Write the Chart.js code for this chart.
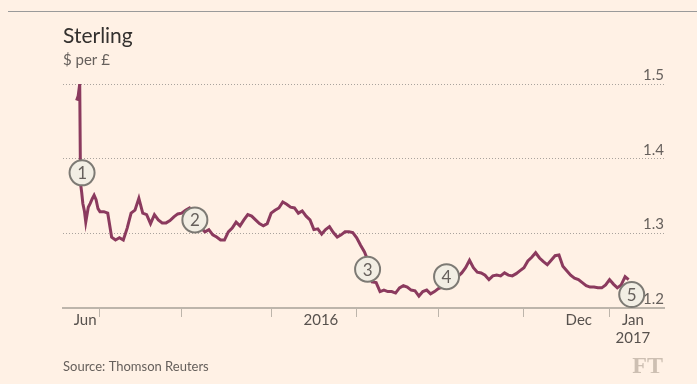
<!DOCTYPE html>
<html>
<head>
<meta charset="utf-8">
<script src="https://cdn.jsdelivr.net/npm/chart.js@4.4.0/dist/chart.umd.min.js"></script>
<style>
  html, body { margin: 0; padding: 0; background: #fff1e5; }
  #wrap { width: 697px; height: 384px; }
</style>
</head>
<body>
<div id="wrap"><canvas id="sterling" width="697" height="384"></canvas></div>
<script>
// trading days counted from 23 Jun 2016 (fractions = intraday around the vote)
const days = [0, 0.4, 0.8, 1, 1.3, 1.6, 2, 2.35, 3, 3.5, 4, 4.5, 5, 5.5,
  6, 7, 8, 9, 10, 11, 12, 13, 14, 15, 16, 17, 18, 19, 20, 21, 22, 23, 24, 25, 26,
  27, 28, 29, 30, 31, 32, 33, 34, 35, 36, 37, 38, 39, 40, 41, 42, 43, 44, 45, 46, 47, 48, 49,
  50, 51, 52, 53, 54, 55, 56, 57, 58, 59, 60, 61, 62, 63, 64, 65, 66, 67, 68, 69, 70, 71,
  72, 73, 74, 75, 76, 77, 78, 79, 80, 81, 82, 83, 84, 85, 86, 87, 88, 89, 90, 91, 92,
  93, 94, 95, 96, 97, 98, 99, 100, 101, 102, 103, 104, 105, 106, 107, 108, 109, 110, 111, 112, 113, 114,
  115, 116, 117, 118, 119, 120, 121, 122, 123, 124, 125, 126, 127, 128, 129, 130, 131, 132, 133, 134, 135, 136,
  137, 138, 139, 140, 141, 141.9];
const rates = [1.478, 1.484, 1.500, 1.367, 1.355, 1.340, 1.330, 1.315, 1.335, 1.340, 1.346, 1.351, 1.345, 1.333,
  1.329, 1.329, 1.327, 1.295, 1.291, 1.294, 1.291, 1.307, 1.327, 1.331, 1.347, 1.327, 1.325, 1.313, 1.325, 1.318, 1.314, 1.314, 1.317, 1.322, 1.326,
  1.327, 1.331, 1.334, 1.325, 1.315, 1.307, 1.302, 1.305, 1.298, 1.295, 1.291, 1.291, 1.302, 1.307, 1.315, 1.310, 1.318, 1.325, 1.323, 1.318, 1.313, 1.310, 1.313,
  1.327, 1.331, 1.334, 1.342, 1.339, 1.335, 1.334, 1.327, 1.330, 1.323, 1.318, 1.305, 1.306, 1.299, 1.305, 1.309, 1.301, 1.295, 1.298, 1.302, 1.302, 1.301,
  1.294, 1.284, 1.275, 1.262, 1.235, 1.234, 1.222, 1.224, 1.222, 1.222, 1.220, 1.227, 1.230, 1.228, 1.224, 1.223, 1.216, 1.222, 1.224, 1.219, 1.222,
  1.226, 1.228, 1.232, 1.235, 1.238, 1.242, 1.247, 1.254, 1.264, 1.254, 1.248, 1.247, 1.244, 1.238, 1.243, 1.244, 1.243, 1.247, 1.244, 1.243, 1.246, 1.250,
  1.254, 1.263, 1.268, 1.274, 1.267, 1.262, 1.258, 1.264, 1.270, 1.271, 1.256, 1.250, 1.244, 1.240, 1.238, 1.234, 1.230, 1.228, 1.228, 1.227, 1.227, 1.231,
  1.238, 1.232, 1.227, 1.231, 1.242, 1.238];

const yTicks = [1.2, 1.3, 1.4, 1.5];
const monthStarts = [6, 27, 50, 72, 93, 115, 137];
const xLabelDays = [2.2, 62.8, 129.1, 143];
const xLabelText = ['Jun', '2016', 'Dec', ['Jan', '2017']];
const markerDays = [1.4, 30.4, 74.8, 95.1, 142.7];
const markerRates = [1.381, 1.318, 1.252, 1.242, 1.218];
const markerText = ['1', '2', '3', '4', '5'];

const FONT = 'Lato, "Open Sans", sans-serif';

const ftFrame = {
  id: 'ftFrame',
  beforeDraw(chart) {
    const c = chart.ctx;
    c.save();
    c.fillStyle = '#fff1e5';
    c.fillRect(0, 0, chart.width, chart.height);
    c.restore();
  },
  afterDatasetsDraw(chart) {
    const c = chart.ctx;
    const xs = chart.scales.x, ys = chart.scales.y;
    c.save();
    markerDays.forEach((d, i) => {
      const px = xs.getPixelForValue(d), py = ys.getPixelForValue(markerRates[i]);
      c.beginPath();
      c.arc(px, py, 12.5, 0, Math.PI * 2);
      c.fillStyle = '#f2eee4';
      c.fill();
      c.lineWidth = 2;
      c.strokeStyle = '#7d7a74';
      c.stroke();
      c.fillStyle = '#66605c';
      c.font = '17px ' + FONT;
      c.textAlign = 'center';
      c.textBaseline = 'middle';
      c.fillText(markerText[i], px, py + 1);
    });
    c.restore();
  },
  afterDraw(chart) {
    const c = chart.ctx;
    c.save();
    c.fillStyle = '#9a9a9a';
    c.fillRect(8, 11, chart.width - 8, 1);
    c.textAlign = 'left';
    c.textBaseline = 'alphabetic';
    c.fillStyle = '#33302e';
    c.font = '21px ' + FONT;
    c.fillText('Sterling', 63, 43);
    c.fillStyle = '#66605c';
    c.font = '15px ' + FONT;
    c.fillText('$ per £', 63, 65);
    c.font = '13px ' + FONT;
    c.fillText('Source: Thomson Reuters', 63, 371);
    c.textAlign = 'right';
    c.fillStyle = '#cdbfb2';
    c.font = 'bold 24px "Liberation Serif", serif';
    c.fillText('FT', 663, 373);
    c.restore();
  }
};

new Chart('sterling', {
  type: 'line',
  data: {
    datasets: [{
      data: days.map((d, i) => ({ x: d, y: rates[i] })),
      borderColor: '#8b3a5e',
      borderWidth: 3,
      pointRadius: 0,
      tension: 0,
      fill: false
    }]
  },
  options: {
    responsive: false,
    animation: false,
    layout: { padding: { left: 63, right: 33, top: 84, bottom: 36 } },
    plugins: {
      legend: { display: false },
      tooltip: { enabled: false }
    },
    scales: {
      x: {
        type: 'linear',
        min: -3.5,
        max: 151,
        afterBuildTicks: scale => {
          scale.ticks = monthStarts.concat(xLabelDays).map(v => ({ value: v }));
        },
        afterFit: scale => { scale.height = 40; },
        border: { color: '#bdb5ab', width: 2 },
        grid: {
          drawOnChartArea: false,
          tickLength: 9,
          tickWidth: 1,
          tickColor: ctx => (ctx.tick && monthStarts.includes(ctx.tick.value)) ? '#bdb5ab' : 'rgba(0,0,0,0)'
        },
        ticks: {
          autoSkip: false,
          maxRotation: 0,
          padding: -6,
          color: '#57514d',
          font: { family: FONT, size: 15 },
          callback: v => {
            const k = xLabelDays.indexOf(v);
            return k >= 0 ? xLabelText[k] : '';
          }
        }
      },
      y: {
        position: 'right',
        min: 1.2,
        max: 1.5,
        afterBuildTicks: scale => {
          scale.ticks = yTicks.map(v => ({ value: v }));
        },
        border: { display: false, dash: [1, 2] },
        grid: { color: '#a9a39d', lineWidth: 1, drawTicks: false },
        ticks: {
          mirror: true,
          padding: 0,
          labelOffset: -9,
          color: '#66605c',
          font: { family: FONT, size: 15 },
          callback: v => v.toFixed(1)
        }
      }
    }
  },
  plugins: [ftFrame]
});
</script>
</body>
</html>
